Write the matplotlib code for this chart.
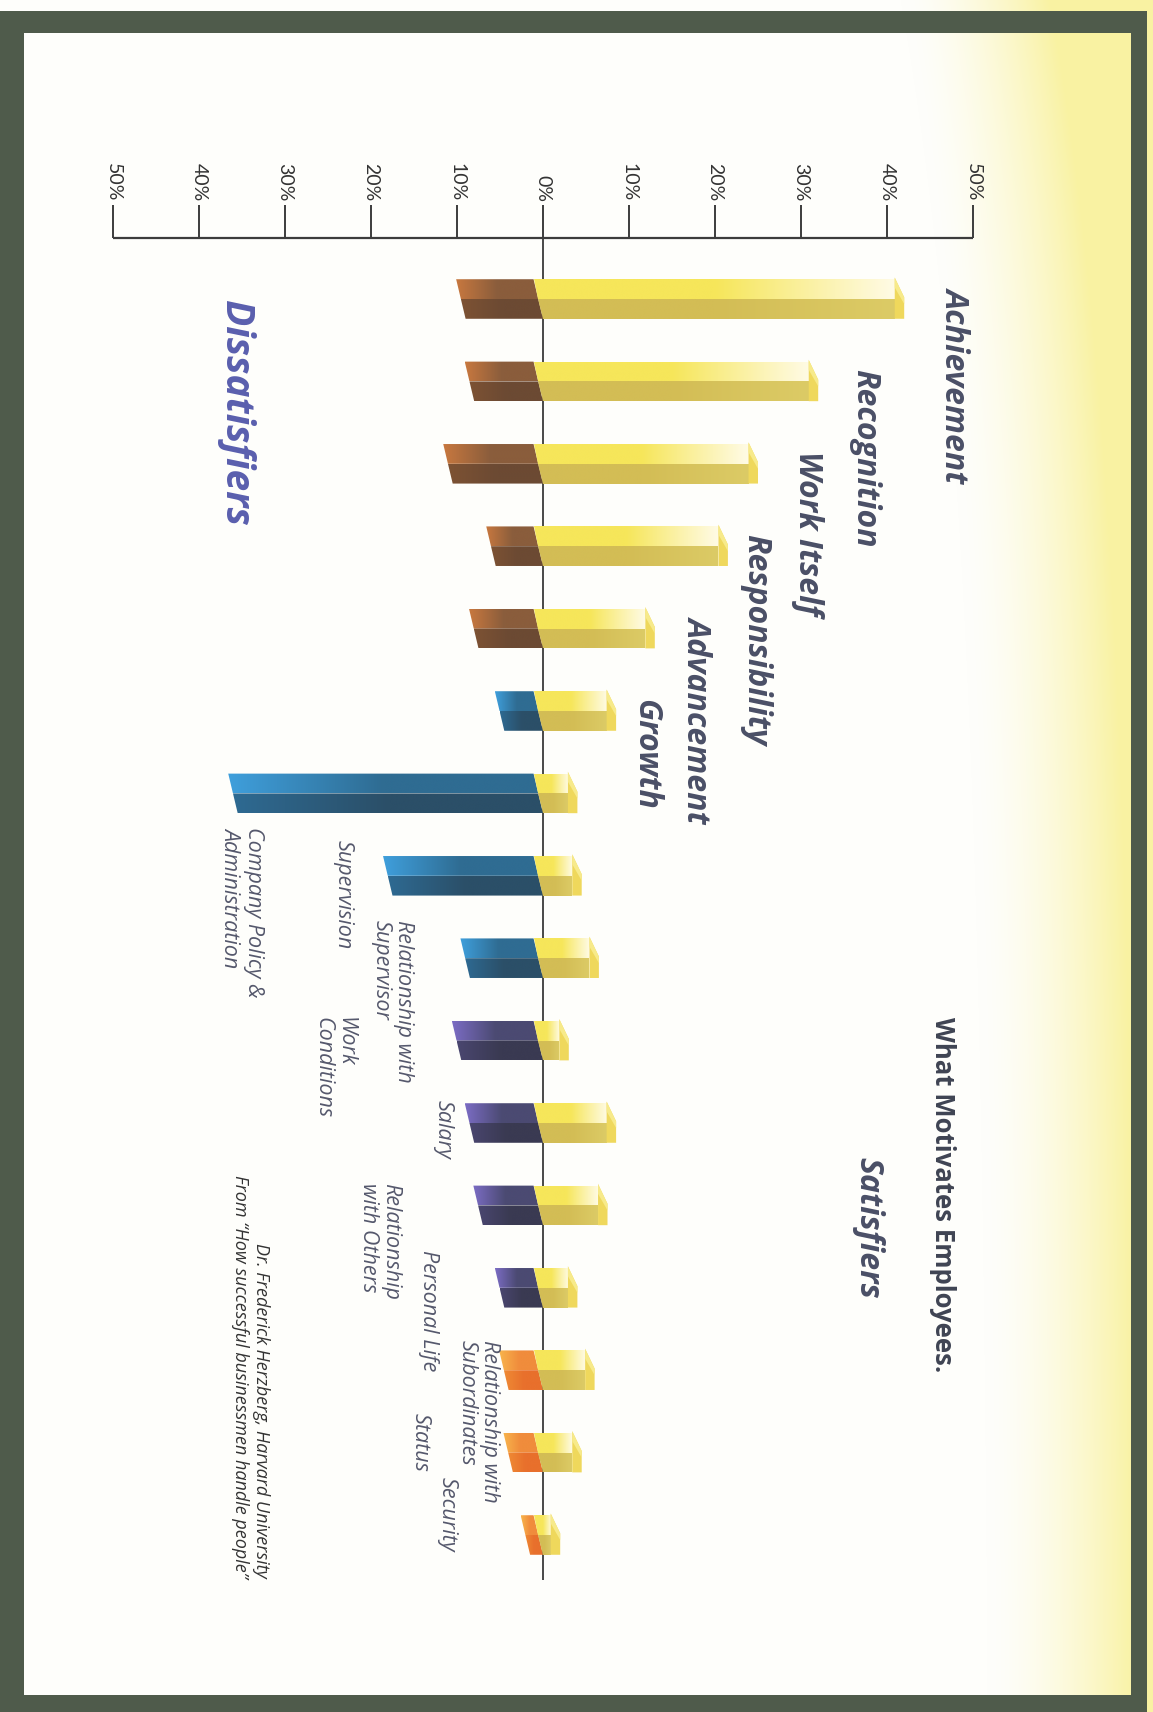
"""What Motivates Employees - Herzberg satisfier / dissatisfier chart (rotated page)."""

import numpy as np
import matplotlib
matplotlib.use("Agg")
import matplotlib.pyplot as plt
from matplotlib.patches import Polygon, Rectangle
from matplotlib.colors import LinearSegmentedColormap, to_rgb

# ── Data ───────────────────────────────────────────────────────────────────
categories = [
    "Achievement", "Recognition", "Work Itself", "Responsibility", "Advancement", "Growth",
    "Company Policy &\nAdministration", "Supervision", "Relationship with\nSupervisor",
    "Work\nConditions", "Salary", "Relationship\nwith Others", "Personal Life",
    "Relationship with\nSubordinates", "Status", "Security",
]
satisfiers = [42, 32, 25, 21.5, 13, 8.5, 4, 4.5, 6.5, 3, 8.5, 7.5, 4, 6, 4.5, 2]
dissatisfiers = [9, 8, 10.5, 5.5, 7.5, 4.5, 35.5, 17.5, 8.5, 9.5, 8, 7, 4.5, 4, 3.5, 1.5]
groups = ["brown"] * 5 + ["blue"] * 4 + ["purple"] * 4 + ["orange"] * 3
tick_values = [-50, -40, -30, -20, -10, 0, 10, 20, 30, 40, 50]
tick_labels = ["50%", "40%", "30%", "20%", "10%", "0%", "10%", "20%", "30%", "40%", "50%"]

# ── Style ──────────────────────────────────────────────────────────────────
FONT = ["Open Sans", "DejaVu Sans"]
LABEL_DARK = "#4a4f66"
LABEL_SOFT = "#55586c"
FRAME = "#4f5b4b"

# colours: (top face outer, top face inner, front face outer, front face inner)
face_colors = {
    "yellow": ("#fffbe6", "#f6e65a", "#dccb66", "#d3bd55"),
    "brown":  ("#c8783f", "#8a5d3c", "#7d5233", "#6c4a33"),
    "blue":   ("#3f9fdc", "#2f6c92", "#2e6a92", "#2b4f68"),
    "purple": ("#7b6cc4", "#4b4a72", "#4a4670", "#3a3a52"),
    "orange": ("#f8b54c", "#f08c3c", "#ef8a34", "#e8702c"),
}

W, H, DPI = 1153, 1712, 100
X0_PX, PX_PER_PCT = 543, 8.6        # horizontal scale of the chart
Y0_PX, PX_PER_ROW = 299, 82.4       # vertical spacing of the categories
BAR_H = 0.48
SLANT = 1.1                          # 3-D shear of bar ends, in %

fig = plt.figure(figsize=(W / DPI, H / DPI), dpi=DPI)

# background: off-white page with a pale yellow wash on the right edge
bg = fig.add_axes([0, 0, 1, 1])
bg.set_axis_off()
xs = np.arange(W)[None, :]
ys = np.arange(H)[:, None]
t = np.clip((xs - 990 + 90 * np.exp(-ys / 500.0)) / 150.0, 0, 1) ** 1.6
t = np.broadcast_to(t, (H, W))
white = np.array(to_rgb("#fefefb"))
yellow = np.array(to_rgb("#f9f2a2"))
img = white[None, None, :] * (1 - t[..., None]) + yellow[None, None, :] * t[..., None]
bg.imshow(img, extent=(0, W, H, 0), aspect="auto", interpolation="bilinear")
bg.set_xlim(0, W)
bg.set_ylim(H, 0)
for (x, y, w, h) in [(0, 11, 24, H - 11), (0, 11, 1147, 22), (1131, 11, 16, H - 11), (0, 1695, 1147, 17)]:
    bg.add_patch(Rectangle((x, y), w, h, facecolor=FRAME, edgecolor="none"))

# chart axes spanning the figure, data units: x = percent, y = category row
ax = fig.add_axes([0, 0, 1, 1])
ax.set_axis_off()
xlim = ((0 - X0_PX) / PX_PER_PCT, (W - X0_PX) / PX_PER_PCT)
ylim = ((H - Y0_PX) / PX_PER_ROW, (0 - Y0_PX) / PX_PER_ROW)


def grad_face(verts, outer, inner, z=3):
    """Polygon face filled with a horizontal gradient (outer end -> zero line)."""
    poly = Polygon(verts, closed=True, facecolor="none", edgecolor="none")
    ax.add_patch(poly)
    xv = [v[0] for v in verts]
    yv = [v[1] for v in verts]
    lo, hi = min(xv), max(xv)
    if hi > 0.01:   # satisfier: inner at left, outer at right
        cols = [inner, inner, outer]
    else:           # dissatisfier: outer at left, inner at right
        cols = [outer, inner, inner]
    cmap = LinearSegmentedColormap.from_list("g", cols)
    grad = np.linspace(0, 1, 256).reshape(1, -1)
    im = ax.imshow(grad, cmap=cmap, extent=(lo, hi, max(yv), min(yv)),
                   aspect="auto", interpolation="bicubic", zorder=z)
    im.set_clip_path(poly)


def draw_bar(row, start, end, colors, cap=False):
    yt, ym, yb = row - BAR_H / 2, row, row + BAR_H / 2
    to, ti, fo, fi = colors
    # top face (upper half) and front face (lower half), sheared to the left
    top = [(start - SLANT, yt), (end - SLANT, yt), (end - SLANT / 2, ym), (start - SLANT / 2, ym)]
    front = [(start - SLANT / 2, ym), (end - SLANT / 2, ym), (end, yb), (start, yb)]
    if cap:
        top[1] = (end - SLANT, yt)
        top[2] = (end - SLANT, ym)
        front[1] = (end - SLANT, ym)
        front[2] = (end - SLANT, yb)
    grad_face(top, to, ti)
    grad_face(front, fo, fi)
    if cap:
        ax.add_patch(Polygon([(end - SLANT, yt - 0.02), (end, ym - 0.02), (end, yb), (end - SLANT, yb)],
                             closed=True, facecolor="#efd85c", edgecolor="none", zorder=3))
        ax.add_patch(Polygon([(end - SLANT, yt - 0.02), (end, ym - 0.02), (end, ym + 0.06), (end - SLANT, yt + 0.1)],
                             closed=True, facecolor="#f7ea8a", edgecolor="none", zorder=3))


rows = np.arange(len(categories))
for r, s, d, g in zip(rows, satisfiers, dissatisfiers, groups):
    draw_bar(r, -d, 0, face_colors[g])
    draw_bar(r, 0, s, face_colors["yellow"], cap=True)

# axis with ticks on top, zero line running down through the bars
axis_y = (238 - Y0_PX) / PX_PER_ROW
tick_len = 33 / PX_PER_ROW
ax.hlines(axis_y, tick_values[0], tick_values[-1], color="#3c3c3c", lw=1.6, zorder=2)
ax.vlines(tick_values, axis_y - tick_len, axis_y, color="#3c3c3c", lw=1.4, zorder=2)
ax.vlines(0, axis_y, len(categories) - 0.45, color="#2a2a2a", lw=1.2, zorder=1)
for v, lab in zip(tick_values, tick_labels):
    ax.text(v, axis_y - tick_len - 0.04, lab, rotation=270, rotation_mode="anchor",
            ha="right", va="center", fontsize=14, color="#333333", family=["Lato", "DejaVu Sans"])

# category labels (layout positions: x in %, y offset from the bar row)
sat_label_x = [47.9, 37.4, 30.8, 24.7, 18.0, 11.9]
for i, x in enumerate(sat_label_x):
    ax.text(x, rows[i] - 0.15, categories[i], rotation=270, rotation_mode="anchor",
            ha="left", va="center", fontsize=23, fontweight="bold", style="italic",
            color=LABEL_DARK, family=FONT)

dis_label_pos = {
    6: (-35.0, 0.41), 7: (-23.3, -0.43), 8: (-17.5, -0.46), 9: (-24.3, -0.29),
    10: (-11.6, -0.28), 11: (-19.0, -0.27), 12: (-13.3, -0.46), 13: (-7.5, -0.37),
    14: (-14.3, -0.48), 15: (-11.2, -0.70),
}
for i, (x, dy) in dis_label_pos.items():
    ax.text(x, rows[i] + dy, categories[i], rotation=270, rotation_mode="anchor",
            ha="left", va="center", fontsize=15.5, style="italic", linespacing=1.12,
            color=LABEL_SOFT, family=FONT)

# headings
ax.text(46.4, 8.71, "What Motivates Employees.", rotation=270, rotation_mode="anchor",
        ha="left", va="center", fontsize=18.5, fontweight="bold", color="#3f4453", family=FONT)
ax.text(37.8, 10.41, "Satisfiers", rotation=270, rotation_mode="anchor",
        ha="left", va="center", fontsize=23, fontweight="bold", style="italic",
        color=LABEL_DARK, family=FONT)
ax.text(-35.8, 0.01, "Dissatisfiers", rotation=270, rotation_mode="anchor",
        ha="left", va="center", fontsize=28, fontweight="bold", style="italic",
        color="#5a5fae", family=FONT)
ax.text(-34.0, 15.52, "Dr. Frederick Herzberg, Harvard University\n"
        "From \u201cHow successful businessmen handle people\u201d",
        rotation=270, rotation_mode="anchor", ha="right", va="center", multialignment="right",
        fontsize=13, style="italic", color="#333333", family=FONT)

ax.set_xlim(*xlim)
ax.set_ylim(*ylim)

fig.savefig("out.png", dpi=DPI)
